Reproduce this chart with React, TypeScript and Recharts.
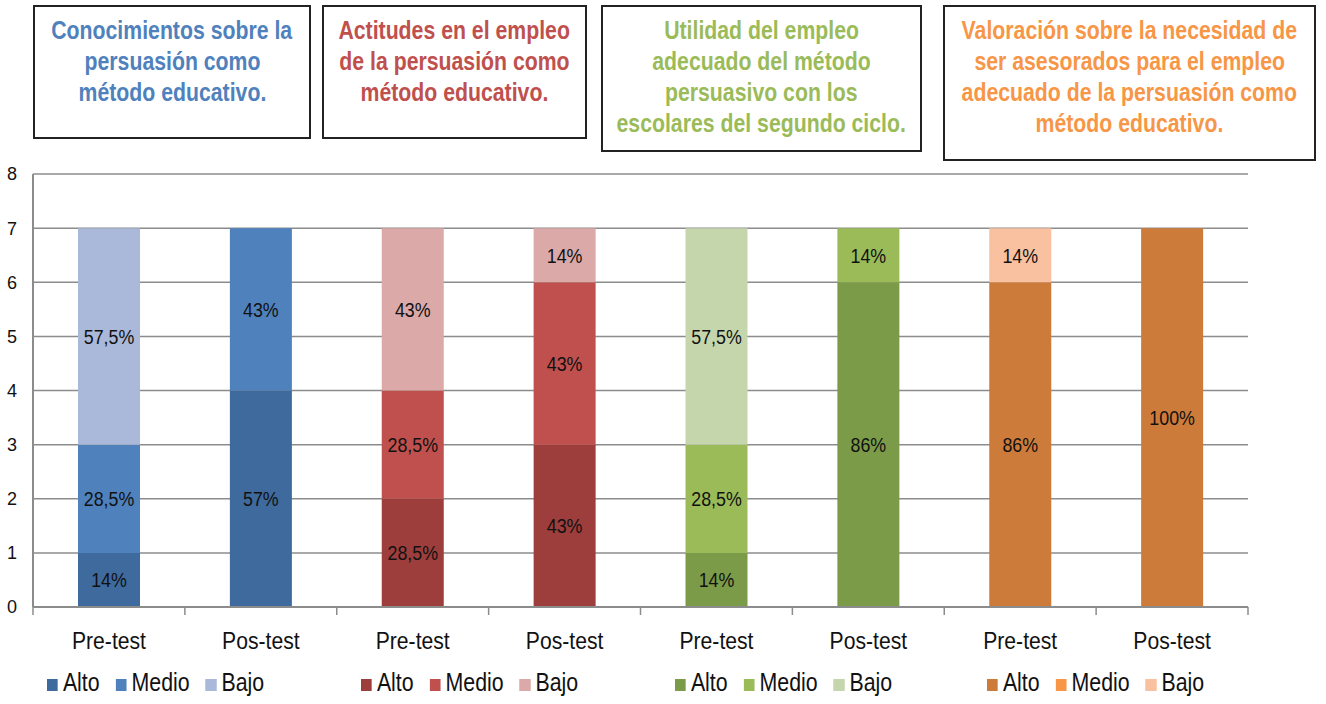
import React from 'react';
import { BarChart, Bar, XAxis, YAxis, CartesianGrid, LabelList, Cell } from 'recharts';

const categories = ['Pre-test', 'Pos-test', 'Pre-test', 'Pos-test', 'Pre-test', 'Pos-test', 'Pre-test', 'Pos-test'];
const alto = [1, 4, 2, 3, 1, 6, 6, 7];
const medio = [2, 3, 2, 3, 2, 1, 0, 0];
const bajo = [4, 0, 3, 1, 4, 0, 1, 0];
const altoLabels = ['14%', '57%', '28,5%', '43%', '14%', '86%', '86%', '100%'];
const medioLabels = ['28,5%', '43%', '28,5%', '43%', '28,5%', '14%', '', ''];
const bajoLabels = ['57,5%', '', '43%', '14%', '57,5%', '', '14%', ''];
const yTicks = [0, 1, 2, 3, 4, 5, 6, 7, 8];

const titles = [
    ['Conocimientos sobre la', 'persuasión como', 'método educativo.'],
    ['Actitudes en el empleo', 'de la persuasión como', 'método educativo.'],
    ['Utilidad del empleo', 'adecuado del método', 'persuasivo con los', 'escolares del segundo ciclo.'],
    ['Valoración sobre la necesidad de', 'ser asesorados para el empleo', 'adecuado de la persuasión como', 'método educativo.'],
];
const seriesNames = ['Alto', 'Medio', 'Bajo'];

const titleColors = ['#4F81BD', '#C0504D', '#9BBB59', '#F79646'];
const altoColors = ['#3E6A9D', '#9D3E3C', '#7B9B49', '#CD7B3A'];
const medioColors = ['#4F81BD', '#C0504D', '#9BBB59', '#F79646'];
const bajoColors = ['#AAB9D9', '#DAA9A8', '#C6D6AC', '#FAC1A0'];

const boxes = [
    { left: 33, width: 278, height: 134 },
    { left: 322, width: 265, height: 134 },
    { left: 601, width: 321, height: 147 },
    { left: 943, width: 373, height: 156 },
];
const legendLefts = [47, 361, 675, 987];

const FONT = '"Liberation Sans", Arial, sans-serif';

const data = categories.map((name, i) => ({
    name,
    alto: alto[i],
    medio: medio[i],
    bajo: bajo[i],
    altoLabel: altoLabels[i],
    medioLabel: medioLabels[i],
    bajoLabel: bajoLabels[i],
}));

const XTick = (props: any) => {
    const { x, y, payload, index, width, visibleTicksCount } = props;
    const band = width / visibleTicksCount;
    const left = x - band / 2;
    return (
        <g>
            <line x1={left} y1={y - 8} x2={left} y2={y} stroke="#8c8c8c" strokeWidth={1.5} />
            {index === visibleTicksCount - 1 && (
                <line x1={left + band} y1={y - 8} x2={left + band} y2={y} stroke="#8c8c8c" strokeWidth={1.5} />
            )}
            <text
                transform={`translate(${x},${y + 34}) scale(0.92,1)`}
                textAnchor="middle"
                fontSize={23}
                fill="#111"
            >
                {payload.value}
            </text>
        </g>
    );
};

const SegmentLabel = (p: any) => {
    if (!p.value) return null;
    const cx = p.x + p.width / 2;
    const cy = p.y + p.height / 2;
    return (
        <text
            transform={`translate(${cx},${cy}) scale(0.85,1)`}
            textAnchor="middle"
            dominantBaseline="central"
            fontSize={21}
            fill="#111"
            fontFamily={FONT}
        >
            {p.value}
        </text>
    );
};

export default function App() {
    const seriesColors = [altoColors, medioColors, bajoColors];
    return (
        <div style={{ position: 'relative', width: 1326, height: 704, fontFamily: FONT, background: '#fff' }}>
            <style>{`body{margin:0}`}</style>
            {boxes.map((b, i) => (
                <div
                    key={i}
                    style={{
                        position: 'absolute',
                        left: b.left,
                        top: 5,
                        width: b.width,
                        height: b.height,
                        boxSizing: 'border-box',
                        border: '2px solid #222',
                        color: titleColors[i],
                        fontWeight: 'bold',
                        fontSize: 25,
                        lineHeight: '31px',
                        paddingTop: 8,
                        whiteSpace: 'nowrap',
                        display: 'flex',
                        flexDirection: 'column',
                        alignItems: 'center',
                    }}
                >
                    {titles[i].map((t, j) => (
                        <div key={j} style={{ transform: 'scaleX(0.85)', flexShrink: 0 }}>{t}</div>
                    ))}
                </div>
            ))}
            <div style={{ position: 'absolute', left: 0, top: 0 }}>
                <BarChart
                    width={1326}
                    height={704}
                    data={data}
                    margin={{ top: 174, right: 78, bottom: 0, left: 8 }}
                    barSize={62}
                    style={{ fontFamily: FONT }}
                >
                    <CartesianGrid vertical={false} stroke="#8c8c8c" strokeWidth={1.5} />
                    <XAxis
                        dataKey="name"
                        axisLine={{ stroke: '#8c8c8c', strokeWidth: 2 }}
                        tickLine={false}
                        tick={<XTick />}
                        interval={0}
                        height={97}
                    />
                    <YAxis
                        domain={[0, 8]}
                        ticks={yTicks}
                        width={25}
                        axisLine={{ stroke: '#8c8c8c', strokeWidth: 2 }}
                        tickLine={false}
                        tickSize={0}
                        tickMargin={16}
                        tick={{ fontSize: 18, fill: '#111' }}
                        interval={0}
                    />
                    {(['alto', 'medio', 'bajo'] as const).map((key, s) => (
                        <Bar key={key} dataKey={key} stackId="a" isAnimationActive={false}>
                            {data.map((_, i) => (
                                <Cell key={i} fill={seriesColors[s][Math.floor(i / 2)]} />
                            ))}
                            <LabelList dataKey={`${key}Label`} content={<SegmentLabel />} />
                        </Bar>
                    ))}
                </BarChart>
            </div>
            {legendLefts.map((left, g) => (
                <div
                    key={g}
                    style={{
                        position: 'absolute',
                        left,
                        top: 668,
                        display: 'flex',
                        fontSize: 26,
                        color: '#111',
                        lineHeight: '28px',
                        whiteSpace: 'nowrap',
                        transform: 'scaleX(0.82)',
                        transformOrigin: 'left center',
                    }}
                >
                    {seriesNames.map((n, s) => (
                        <div key={n} style={{ display: 'flex', marginRight: 19.5 }}>
                            <span
                                style={{
                                    display: 'inline-block',
                                    width: 13.4,
                                    height: 12,
                                    marginTop: 11,
                                    background: seriesColors[s][g],
                                    marginRight: 6,
                                }}
                            />
                            <span>{n}</span>
                        </div>
                    ))}
                </div>
            ))}
        </div>
    );
}
